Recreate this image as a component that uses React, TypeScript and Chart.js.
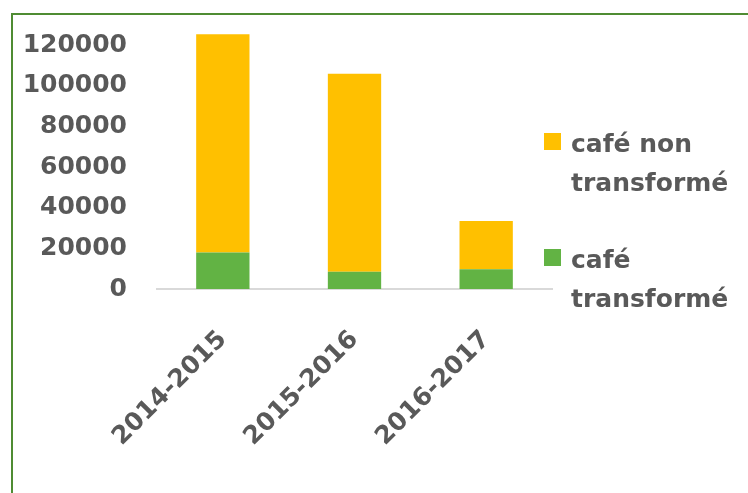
import { useEffect, useRef } from 'react';
import { Chart, registerables } from 'chart.js';

Chart.register(...registerables);

const categories = ['2014-2015', '2015-2016', '2016-2017'];
const seriesLabels = ['café transformé', 'café non transformé'];
const cafeTransforme = [18000, 8500, 9700];
const cafeNonTransforme = [107500, 97500, 23800];
const yTickValues = [0, 20000, 40000, 60000, 80000, 100000, 120000];
const seriesColors = ['#62b344', '#ffc000'];

const FONT_FAMILY = '"DejaVu Sans", sans-serif';
const TEXT_COLOR = '#595959';

function wrapText(ctx: CanvasRenderingContext2D, text: string, maxW: number): string[] {
  const words = text.split(' ');
  const lines: string[] = [];
  let cur = '';
  for (const w of words) {
    const test = cur ? cur + ' ' + w : w;
    if (cur && ctx.measureText(test).width > maxW) {
      lines.push(cur);
      cur = w;
    } else {
      cur = test;
    }
  }
  if (cur) lines.push(cur);
  return lines;
}

const sideLegend = {
  id: 'sideLegend',
  afterDraw(chart: any) {
    const ctx: CanvasRenderingContext2D = chart.ctx;
    const items = chart.data.datasets.slice().reverse();
    ctx.save();
    ctx.font = `bold 25px ${FONT_FAMILY}`;
    ctx.textBaseline = 'alphabetic';
    ctx.textAlign = 'left';
    const boxX = 544;
    const textX = 571;
    const lineH = 39;
    let baseY = 152;
    items.forEach((d: any) => {
      const lines = wrapText(ctx, d.label, 175);
      ctx.fillStyle = d.backgroundColor;
      ctx.fillRect(boxX, baseY - 19, 17, 17);
      ctx.fillStyle = TEXT_COLOR;
      lines.forEach((l, i) => ctx.fillText(l, textX, baseY + i * lineH));
      baseY += 116;
    });
    ctx.restore();
  },
};

export default function App() {
  const canvasRef = useRef<HTMLCanvasElement | null>(null);

  useEffect(() => {
    if (!canvasRef.current) return;
    const chart = new Chart(canvasRef.current, {
      type: 'bar',
      data: {
        labels: categories,
        datasets: [
          {
            label: seriesLabels[0],
            data: cafeTransforme,
            backgroundColor: seriesColors[0],
            borderWidth: 0,
          },
          {
            label: seriesLabels[1],
            data: cafeNonTransforme,
            backgroundColor: seriesColors[1],
            borderWidth: 0,
          },
        ],
      },
      options: {
        animation: false,
        responsive: false,
        maintainAspectRatio: false,
        layout: { padding: { top: 25, right: 196, bottom: 0, left: 0 } },
        datasets: {
          bar: { categoryPercentage: 1, barPercentage: 0.405 },
        },
        plugins: {
          legend: { display: false },
          tooltip: { enabled: false },
          title: { display: false },
        },
        scales: {
          x: {
            stacked: true,
            grid: { display: false, drawTicks: false },
            border: { display: true, color: '#d9d9d9', width: 2 },
            ticks: {
              autoSkip: false,
              minRotation: 45,
              maxRotation: 45,
              padding: 36,
              color: TEXT_COLOR,
              font: { family: FONT_FAMILY, size: 25, weight: 'bold' },
            },
            afterFit: (scale: any) => {
              scale.height = 204;
              scale.paddingLeft = 0;
              scale.paddingRight = 0;
            },
          },
          y: {
            stacked: true,
            min: 0,
            max: 130000,
            grid: { display: false, drawTicks: false },
            border: { display: false },
            afterBuildTicks: (scale: any) => {
              scale.ticks = yTickValues.map((v) => ({ value: v }));
            },
            ticks: {
              padding: 30,
              color: TEXT_COLOR,
              font: { family: FONT_FAMILY, size: 25, weight: 'bold' },
              callback: (v: any) => String(v),
            },
            afterFit: (scale: any) => {
              scale.width = 157;
              scale.paddingTop = 0;
              scale.paddingBottom = 0;
            },
          },
        },
      },
      plugins: [sideLegend],
    });
    return () => chart.destroy();
  }, []);

  return (
    <div
      style={{
        position: 'fixed',
        left: 0,
        top: 0,
        width: 748,
        height: 493,
        overflow: 'hidden',
        background: '#ffffff',
      }}
    >
      <div
        style={{
          position: 'absolute',
          left: 11,
          top: 13,
          width: 900,
          height: 700,
          borderLeft: '2px solid #4f8c33',
          borderTop: '2px solid #4f8c33',
        }}
      />
      <canvas
        ref={canvasRef}
        width={748}
        height={493}
        style={{ position: 'absolute', left: 0, top: 0, width: 748, height: 493 }}
      />
    </div>
  );
}
